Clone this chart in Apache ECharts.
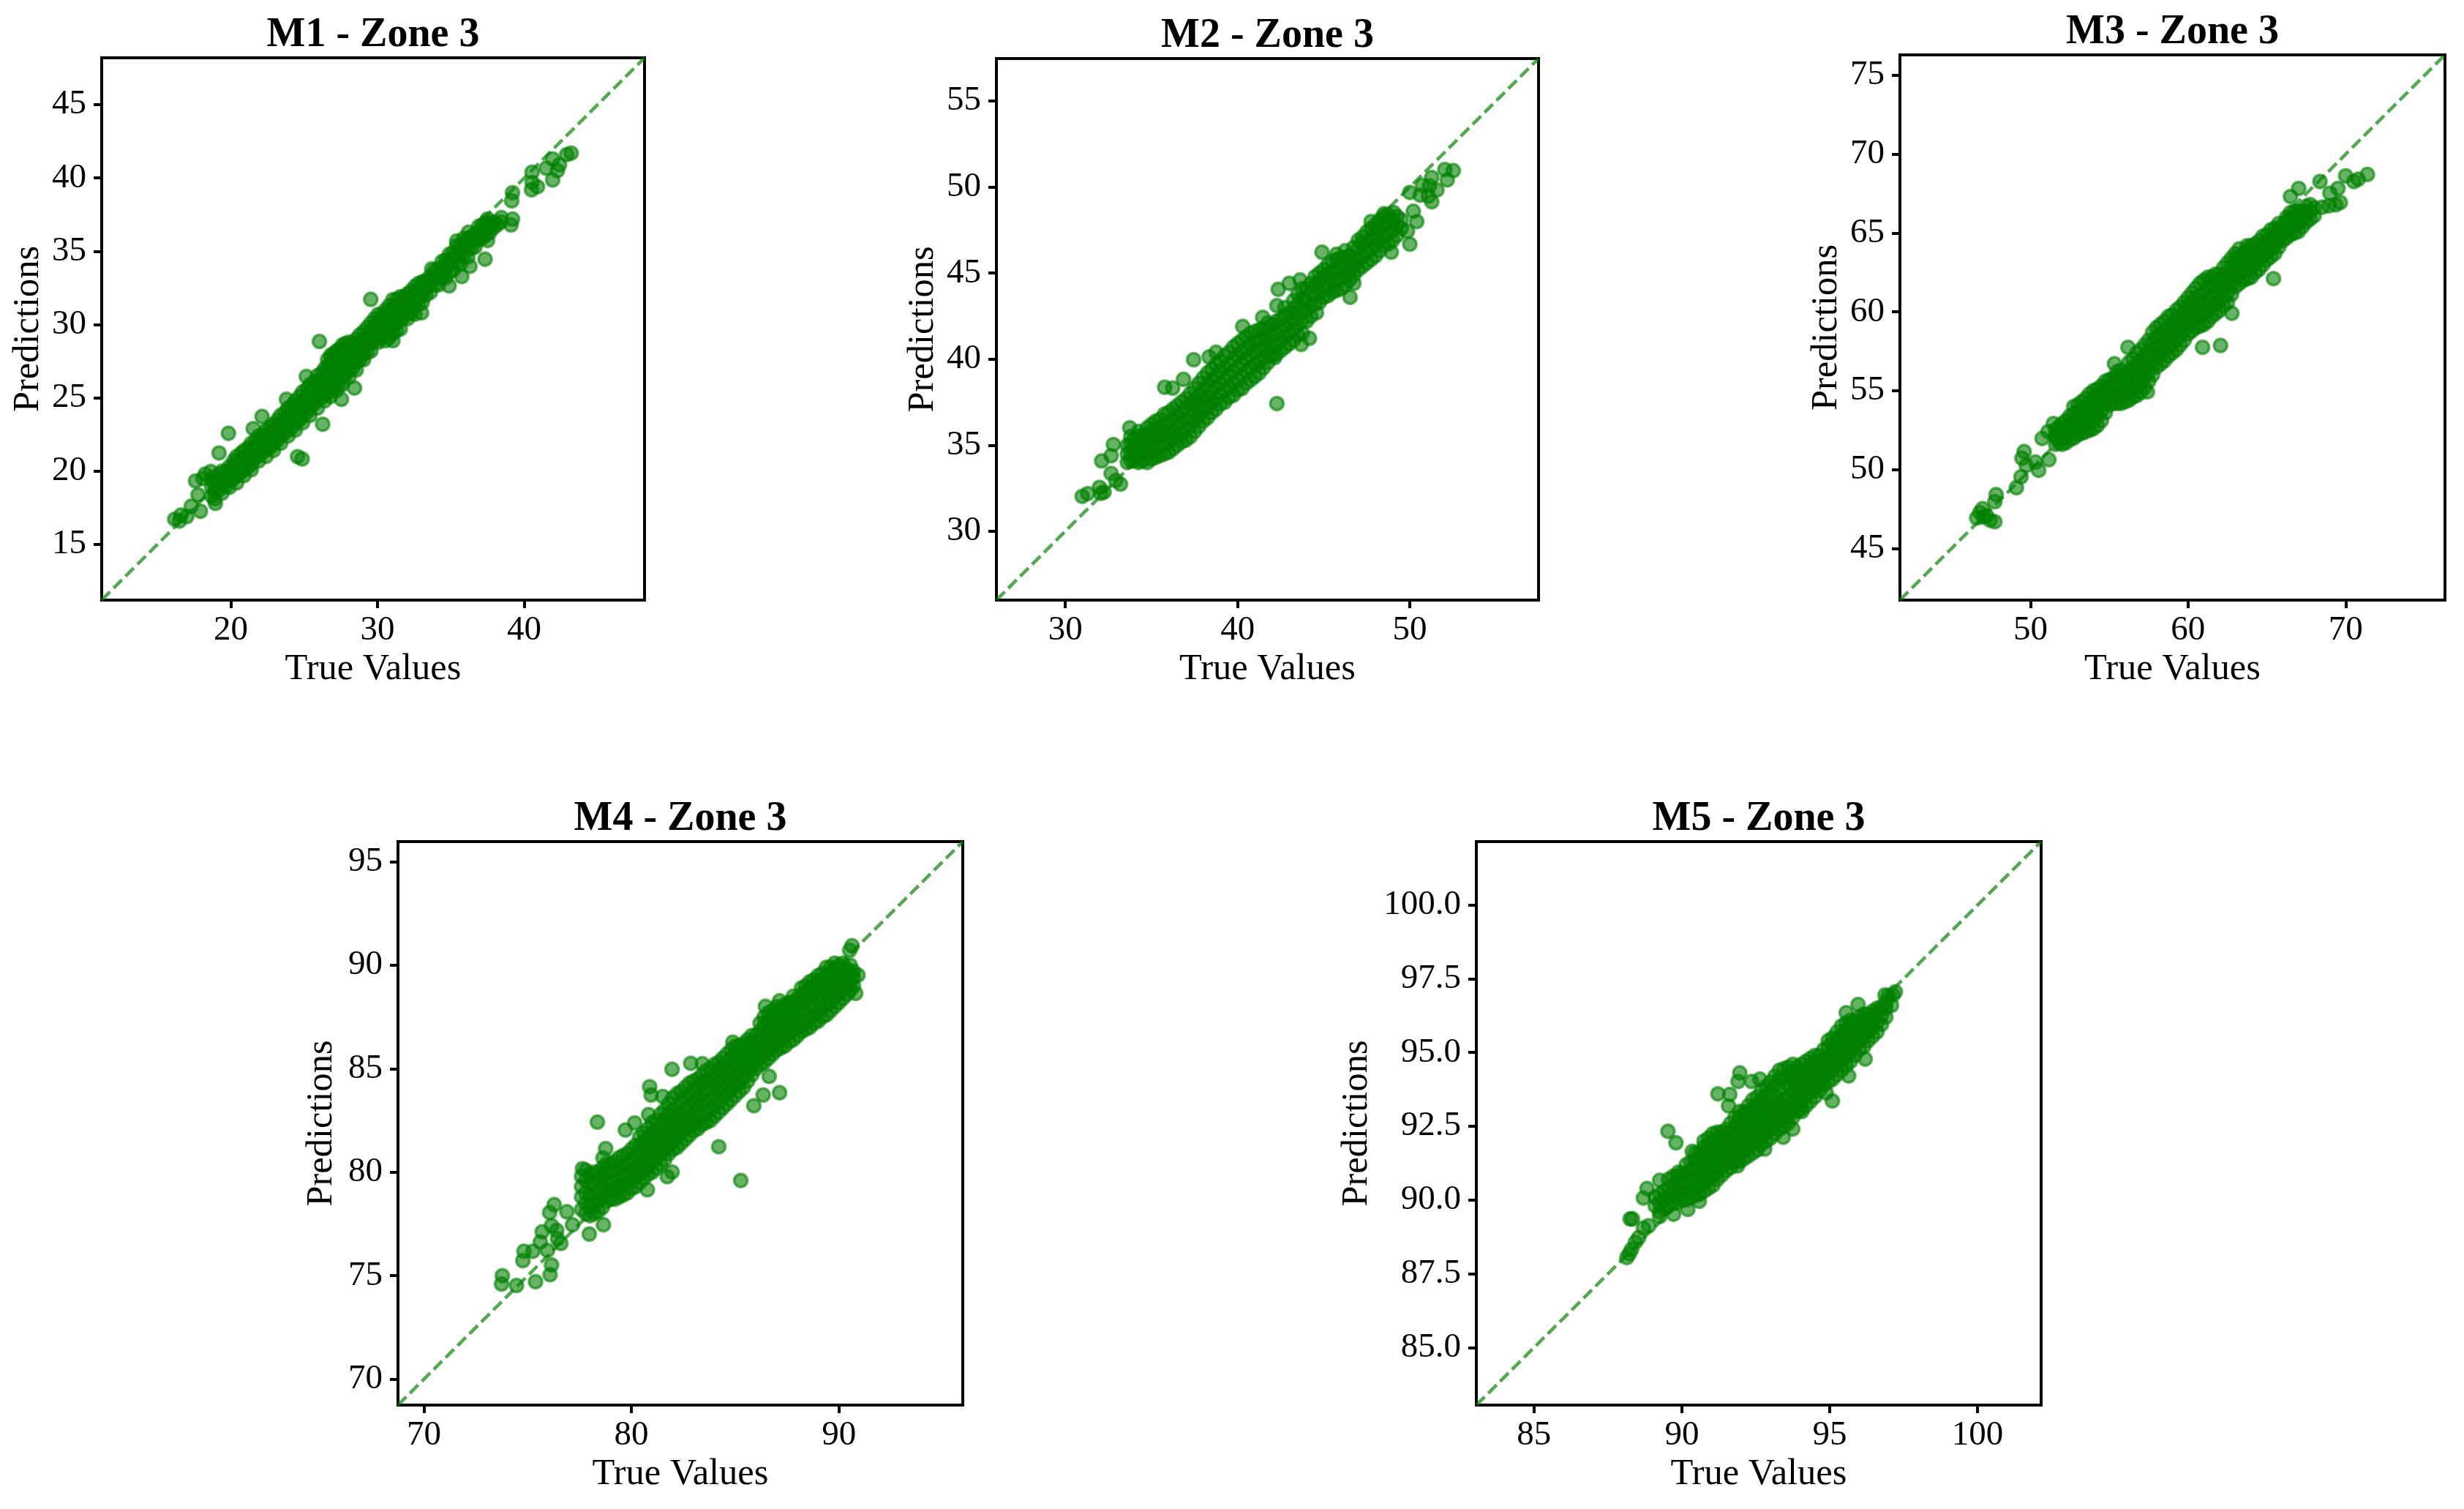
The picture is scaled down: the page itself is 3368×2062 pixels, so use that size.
<!DOCTYPE html>
<html>
<head>
<meta charset="utf-8">
<style>html,body{margin:0;padding:0;background:#fff}#c{width:3368px;height:2062px}</style>
<script src="https://cdn.jsdelivr.net/npm/echarts@6/dist/echarts.min.js"></script>
</head>
<body>
<div id="c"></div>
<script>
const titles=['M1 - Zone 3','M2 - Zone 3','M3 - Zone 3','M4 - Zone 3','M5 - Zone 3'];
const m1Range=[11.2,48.2], m2Range=[26,57.47], m3Range=[41.72,76.3], m4Range=[68.75,95.97], m5Range=[83.05,102.15];
const m1XTicks=[20,30,40], m1YTicks=[15,20,25,30,35,40,45];
const m2XTicks=[30,40,50], m2YTicks=[30,35,40,45,50,55];
const m3XTicks=[50,60,70], m3YTicks=[45,50,55,60,65,70,75];
const m4XTicks=[70,80,90], m4YTicks=[70,75,80,85,90,95];
const m5XTicks=[85,90,95,100], m5YTicks=[85,87.5,90,92.5,95,97.5,100];

// dense band: each row is a true value followed by estimated predictions at it
const m1Band=[[18.7,18.3,18.9,19.4],[19.2,18.7,19.3,19.8],[19.7,19,19.5,20],[20.2,19.5,19.9,20.4,20.7],[20.7,19.9,20.3,20.8,21.2],[21.2,20.3,20.8,21.2,21.6],[21.7,20.9,21.3,21.7,22.1],[22.2,21.3,21.7,22.1,22.5],[22.7,21.6,22.1,22.6,23],[23.2,22.1,22.6,23,23.5],[23.7,22.6,23.1,23.5,24],[24.2,23,23.5,24,24.5],[24.7,23.5,24,24.5,25.1],[25.2,24,24.6,25.1,25.6],[25.7,24.6,25.1,25.6,26.1],[26.2,25,25.6,26.2,26.7],[26.6,25.3,25.9,26.5,27.1,27.6],[27,25.6,26.2,26.9,27.5,28],[27.4,25.9,26.6,27.3,27.9,28.3],[27.8,26.5,27.1,27.7,28.3,28.7],[28.3,27,27.6,28.1,28.7],[28.8,27.6,28.1,28.7,29.3],[29.3,28.1,28.7,29.2,29.8],[29.8,28.9,29.4,29.9,30.4],[30.3,29.1,29.6,30.1,30.7],[30.8,29.1,29.7,30.3,30.9,31.3],[31.3,29.6,30.1,30.7,31.3,31.7],[31.8,30.5,31,31.5,31.9],[32.3,30.8,31.3,31.8,32.3],[32.8,31.4,31.9,32.4,32.8],[33.3,32,32.5,33],[33.9,32.7,33.2,33.7],[34.4,33.2,33.7,34.3],[34.9,33.6,34.2,34.8],[35.4,34.2,34.8,35.4],[35.9,34.7,35.3,35.9],[36.4,35.2,35.7,36],[36.9,35.8,36.3,36.7],[37.4,36.1,36.6,37],[37.9,36.6,37],[38.4,37]];
const m1Core=[[18.9,18.1,18.6,19.1,19.6],[19.4,18.5,19,19.5,20],[19.9,18.9,19.4,19.8,20.3],[20.4,19.2,19.7,20.1,20.6,21],[20.9,19.7,20.1,20.6,21,21.4],[21.4,20.1,20.5,21,21.5,21.9],[21.9,20.7,21.1,21.5,21.9,22.4],[22.4,21,21.5,21.9,22.3,22.8],[22.9,21.4,21.9,22.3,22.8,23.2],[23.4,21.9,22.4,22.8,23.3,23.8],[23.9,22.4,22.9,23.3,23.8,24.3],[24.4,22.8,23.3,23.8,24.3,24.8],[24.9,23.3,23.8,24.3,24.8,25.4],[25.4,23.8,24.3,24.8,25.4,25.9],[25.9,24.3,24.9,25.4,25.9,26.5],[26.4,24.8,25.3,25.9,26.5,27],[26.8,25.1,25.7,26.3,26.9,27.4,27.9],[27.2,25.5,26,26.6,27.2,27.8,28.2],[27.6,25.9,26.4,27,27.6,28.1,28.6],[28.05,26.4,26.9,27.4,28,28.5,28.8],[28.55,26.9,27.4,27.9,28.4,29],[29.05,27.6,28,28.5,29,29.5],[29.55,28.2,28.7,29.2,29.6,30.1],[30.05,28.8,29.2,29.7,30.2,30.7],[30.55,28.9,29.4,29.9,30.5,31],[31.05,28.9,29.4,30,30.6,31.1,31.7],[31.55,29.7,30.3,30.9,31.4,31.9],[32.05,30.4,30.8,31.3,31.7,32.1],[32.55,30.7,31.2,31.6,32.1,32.6],[33.05,31.5,32,32.4,32.9],[33.6,32.2,32.7,33.3],[34.15,32.7,33.2,33.8],[34.65,33.2,33.8,34.4],[35.15,33.7,34.3,34.9],[35.65,34.1,34.7,35.4],[36.15,34.6,35.2,35.8],[36.65,35.3,35.7,36.2],[37.15,35.9,36.3,36.8],[37.65,36.3,36.8],[38.15,36.8]];
// separately readable points: [true, predicted]
const m1Loose=[[29.54,31.72],[26.04,28.85],[19.84,22.58],[19.2,21.24],[22.13,23.73],[24.55,20.99],[24.86,20.83],[26.26,23.2],[28.43,25.67],[27.54,24.9],[25.15,26.46],[23.8,24.9],[21.53,22.9],[16.18,16.72],[16.6,17],[16.5,16.6],[17,16.9],[17.3,17.6],[17.93,17.26],[17.77,18.38],[17.6,19.33],[18.25,19.8],[18.63,19.97],[18.95,17.8],[18.1,19.5],[43.2,41.7],[42.9,41.6],[41.94,41.3],[41.5,40.67],[42.4,40.9],[42.26,40.5],[41.94,39.87],[40.54,40.4],[40.54,39.7],[40.5,39.2],[40.9,39.4],[39.2,39],[39.15,38.44],[39.1,36.8],[39.2,37.2],[38.44,37.3],[37.5,37.2],[37.33,34.46],[37.5,35.73],[36.3,33.98],[35.74,33.28],[34.88,32.64],[36.2,36.3],[35.4,35.7],[33.7,33.8],[33,30.8]];

const m2Band=[[33.6,34,34.5,35],[34,34.1,34.6,35,35.4],[34.5,34.1,34.6,35.1,35.6],[35,34.2,34.7,35.3,35.8,36.2],[35.5,34.4,35,35.5,36,36.5],[36,34.6,35.2,35.8,36.3,36.9],[36.5,35,35.5,36.1,36.7,37.3],[37,35.3,35.9,36.5,37.1,37.7],[37.5,35.8,36.4,37,37.6,38.3],[38,36.4,37,37.6,38.2,38.9],[38.5,36.9,37.5,38.1,38.8,39.4],[39,37.4,38,38.6,39.3,39.9],[39.5,37.8,38.4,39.1,39.7,40.4],[40,38.2,38.8,39.5,40.2,40.9],[40.5,38.6,39.3,40,40.6,41.3],[41,39,39.7,40.4,41,41.6],[41.5,39.5,40.1,40.7,41.3,41.8],[42,40.2,40.8,41.4,42],[42.5,40.5,41.1,41.7,42.3],[43,40.9,41.5,42.1,42.7],[43.5,41.4,42,42.6,43.2,43.8],[44,42.2,42.8,43.4,44.1],[44.5,43.2,43.7,44.3,44.8],[45,43.6,44.2,44.8,45.2],[45.5,43.9,44.5,45.1,45.7],[46,44.1,44.7,45.3,45.9],[46.5,44.6,45.1,45.6,46],[47,45.2,45.8,46.4,46.9],[47.5,45.6,46.2,46.8,47.4],[48,46,46.6,47.2,47.8],[48.5,46.6,47.2,47.8,48.3],[49,46.9,47.5,48.1],[49.5,47.6,48.1]];
const m2Core=[[33.8,34.1,34.6,35.1,35.5],[34.25,34,34.5,35,35.5,35.8],[34.75,34,34.5,35,35.5,36],[35.25,34.3,34.8,35.4,35.9,36.4],[35.75,34.5,35.1,35.7,36.2,36.8],[36.25,34.8,35.4,35.9,36.5,37.1],[36.75,35.2,35.7,36.3,36.9,37.5],[37.25,35.5,36.1,36.7,37.4,38],[37.75,36.1,36.7,37.3,37.9,38.6],[38.25,36.6,37.2,37.8,38.5,39.2],[38.75,37.1,37.7,38.4,39,39.7],[39.25,37.5,38.2,38.8,39.5,40.2],[39.75,37.9,38.6,39.3,40,40.7],[40.25,38.3,39,39.7,40.4,41.1],[40.75,38.8,39.5,40.2,40.8,41.5],[41.25,39.2,39.8,40.5,41.1,41.7],[41.75,39.8,40.4,41,41.6,42.1],[42.25,40.3,40.9,41.5,42.2],[42.75,40.7,41.3,41.9,42.5,43],[43.25,41.1,41.7,42.3,42.9,43.4],[43.75,41.5,42.2,42.9,43.5,44.1],[44.25,42.5,43.1,43.8,44.4],[44.75,43.3,43.9,44.5,45],[45.25,43.7,44.3,44.9,45.5],[45.75,44,44.6,45.2,45.8,46.1],[46.25,44.3,44.9,45.4,45.9,46.3],[46.75,44.9,45.4,45.9,46.5],[47.25,45.4,46,46.6,47.1],[47.75,45.8,46.4,47,47.6,48],[48.25,46.3,46.9,47.5,48.1],[48.75,46.7,47.3,47.9,48.4],[49.25,47.2,47.8,48.3]];
const m2Loose=[[42.28,37.42],[37.45,39.97],[36.86,38.83],[35.77,38.37],[36.23,38.32],[33.74,36.01],[32.79,35.04],[32.11,34.09],[32.66,34.39],[30.98,32.03],[31.3,32.19],[31.98,32.55],[32.25,32.28],[32.06,32.2],[32.66,33.36],[33.2,32.74],[32.93,32.95],[42.36,44.06],[42.28,43.11],[44.9,46.22],[43,44.41],[43.63,44.6],[44.17,41.21],[43.69,40.86],[46.53,43.6],[46.75,44.41],[44.58,42.7],[42.14,40.08],[50,46.68],[49.86,47.44],[48.92,46.22],[50.4,48],[50.2,48.6],[50,49.69],[50.6,49.53],[50.73,50.1],[51.27,50.56],[51.14,50.07],[51.57,49.83],[51.27,49.15],[51.08,49.47],[52.03,51.02],[52.52,50.96],[52.17,50.42],[49.05,48.53],[48.5,48.45],[38.35,40.13],[38.75,40.4],[40.3,41.9],[41.46,42.43]];

const m3Band=[[51.6,51.6,52.1,52.5],[52,51.6,52.1,52.5,52.9],[52.5,51.9,52.4,52.9,53.4],[53,52.2,52.7,53.2,53.7,54.1],[53.5,52.4,52.9,53.4,53.9,54.5],[54,52.6,53.2,53.8,54.4,55],[54.5,53.1,53.7,54.2,54.8,55.3],[55,54.1,54.6,55.1,55.7],[55.5,54.2,54.7,55.2,55.8,56.2],[56,54.3,54.9,55.5,56],[56.5,54.6,55.2,55.8,56.5,57],[57,54.9,55.5,56.2,56.9,57.6],[57.5,55.6,56.2,56.8,57.5,58.2],[58,56.5,57.1,57.7,58.4,59],[58.5,56.9,57.5,58.1,58.8,59.4],[59,57.4,58,58.6,59.2,59.8],[59.5,57.9,58.5,59.1,59.7,60.3],[60,58.6,59.2,59.8,60.4,60.9],[60.5,59,59.6,60.2,60.9,61.5],[61,59.2,59.9,60.5,61.2,62],[61.5,59.7,60.4,61,61.6,62.2],[62,60.1,60.7,61.4,62,62.4],[62.5,60.6,61.2,61.8,62.4,63.1],[63,61.6,62.2,62.8,63.3,63.7],[63.5,62,62.6,63.1,63.7],[64,62.2,62.8,63.4,64.2],[64.5,62.7,63.3,63.9,64.5],[65,63.3,63.8,64.4,64.9],[65.5,63.7,64.2,64.7,65.3],[66,64.5,65,65.5],[66.5,64.9,65.4,65.9,66.3],[67,65.1,65.6,66.1,66.4],[67.5,65.7,66.2,66.7],[68,66.1,66.6]];
const m3Core=[[51.8,51.7,52.2,52.7],[52.25,51.7,52.2,52.7,53.1],[52.75,52,52.5,53,53.5,54],[53.25,52.3,52.8,53.3,53.8,54.3],[53.75,52.5,53,53.6,54.2,54.8],[54.25,52.8,53.4,54,54.6,55.1],[54.75,53.6,54.2,54.7,55.2,55.6],[55.25,54.2,54.7,55.3,55.8],[55.75,54.2,54.8,55.4,55.9,56.3],[56.25,54.4,55,55.6,56.2,56.8],[56.75,54.7,55.3,56,56.7,57.4],[57.25,55.2,55.9,56.5,57.2,57.9],[57.75,56,56.6,57.3,58,58.7],[58.25,56.7,57.3,57.9,58.6,59.2],[58.75,57.2,57.8,58.4,59,59.7],[59.25,57.6,58.2,58.8,59.5,60.1],[59.75,58.2,58.8,59.4,60,60.6],[60.25,58.8,59.4,60,60.6,61.2],[60.75,59.1,59.7,60.4,61,61.8],[61.25,59.4,60.1,60.8,61.5,62.2],[61.75,59.9,60.5,61.2,61.8,62.4],[62.25,60.4,61,61.6,62.2,62.8],[62.75,61.1,61.7,62.3,62.9,63.4],[63.25,61.8,62.4,63,63.5,64],[63.75,62.1,62.7,63.3,63.9,64.2],[64.25,62.5,63.1,63.7,64.3],[64.75,63,63.6,64.2,64.8],[65.25,63.5,64,64.6,65.2],[65.75,64.1,64.6,65.1,65.6],[66.25,64.7,65.2,65.7,66],[66.75,65,65.5,66,66.4],[67.25,65.4,65.9,66.4],[67.75,65.9,66.4,66.8]];
const m3Loose=[[62.06,57.87],[60.92,57.75],[56.19,57.75],[55.33,56.71],[57.42,54.93],[65.42,62.11],[62.78,59.91],[66.5,67.32],[67.02,67.83],[68.37,68.27],[70,68.63],[70.52,68.27],[70.8,68.42],[71.38,68.72],[69,67.53],[69.51,67.83],[69.66,66.94],[68.94,66.73],[68.5,66.64],[69.37,66.79],[47.82,48.41],[47.74,47.96],[49.11,48.85],[49.4,49.54],[46.59,46.93],[46.96,47.52],[46.79,47.28],[47.22,47.08],[47.45,46.78],[47.74,46.69],[47.02,46.99],[49.6,51.14],[49.46,50.72],[49.74,50.25],[50.52,49.95],[50.32,50.48],[51.17,50.63],[50.74,51.97],[51.46,52.92],[51.12,52.41],[51.6,52.1]];

const m4Band=[[77.6,78.2,78.8,79.3,79.8],[78,77.9,78.4,78.9,79.4,79.9],[78.4,78.1,78.6,79.1,79.6,80],[78.8,78.6,79,79.5,80,80.4],[79.2,78.7,79.2,79.6,80.1,80.5],[79.6,78.9,79.4,79.8,80.3,80.8],[80,79.2,79.6,80.1,80.6,81.1],[80.4,79.5,79.9,80.4,80.9,81.3,81.7],[80.8,79.9,80.3,80.8,81.2,81.7,82.1],[81.2,80.2,80.7,81.1,81.6,82,82.5],[81.6,80.6,81.1,81.6,82,82.5,83],[82,81.1,81.5,82,82.5,83,83.6],[82.4,81.4,81.9,82.4,82.9,83.4,83.9],[82.8,81.8,82.2,82.7,83.2,83.7,84.3],[83.2,82.1,82.6,83.1,83.6,84.1,84.5],[83.6,82.4,82.9,83.4,83.9,84.4,84.9],[84,82.7,83.2,83.7,84.2,84.7,85.2],[84.4,83.1,83.6,84.1,84.6,85.1,85.5],[84.8,83.5,84,84.5,85,85.5,85.9],[85.2,83.9,84.3,84.8,85.3,85.7,86.1],[85.6,84.4,84.8,85.2,85.6,86.1,86.4],[86,85,85.4,85.8,86.2,86.6],[86.4,85.3,85.7,86.1,86.6,87.1,87.5],[86.8,85.7,86.1,86.6,87.1,87.5,87.8],[87.2,86,86.4,86.9,87.3,87.7,87.9],[87.6,86.3,86.7,87.2,87.6,88,88.2],[88,86.6,87,87.5,88,88.4],[88.4,86.9,87.3,87.8,88.3,88.7,89],[88.8,87.2,87.6,88.1,88.6,89,89.3],[89.2,87.5,87.9,88.4,88.9,89.3,89.6],[89.6,87.8,88.2,88.7,89.2,89.6,89.9],[90,88.2,88.6,89,89.5,90],[90.4,88.6,89,89.4,89.8],[90.7,89,89.4,89.7]];
const m4Core=[[77.8,78,78.5,79,79.6,80.1],[78.2,78,78.5,79,79.5,80],[78.6,78.3,78.8,79.3,79.8,80.2],[79,78.7,79.1,79.5,80,80.4],[79.4,78.8,79.3,79.7,80.2,80.7],[79.8,79,79.5,80,80.4,80.9],[80.2,79.3,79.8,80.3,80.8,81.3],[80.6,79.7,80.1,80.6,81,81.5,81.9],[81,80,80.5,81,81.4,81.9,82.4],[81.4,80.4,80.9,81.4,81.8,82.3,82.8],[81.8,80.9,81.3,81.8,82.3,82.8,83.3],[82.2,81.2,81.7,82.2,82.7,83.2,83.8],[82.6,81.6,82.1,82.6,83.1,83.6,84.1],[83,82,82.4,82.9,83.4,83.9,84.4],[83.4,82.3,82.8,83.3,83.8,84.3,84.7],[83.8,82.5,83,83.5,84,84.5,85],[84.2,82.9,83.4,83.9,84.4,84.9,85.3],[84.6,83.3,83.8,84.3,84.8,85.3,85.7],[85,83.7,84.2,84.7,85.2,85.7,86.1],[85.4,84.1,84.6,85,85.5,85.9,86.2],[85.8,84.7,85.1,85.5,85.9,86.3,86.6],[86.2,85.2,85.6,86,86.4,86.8,87.2],[86.6,85.5,85.9,86.3,86.8,87.3,87.7],[87,85.9,86.3,86.8,87.2,87.6,88],[87.4,86.1,86.6,87,87.5,87.9,88.1],[87.8,86.4,86.9,87.4,87.8,88.2,88.5],[88.2,86.8,87.2,87.7,88.2,88.6,88.9],[88.6,87,87.5,88,88.5,88.9,89.2],[89,87.3,87.8,88.3,88.8,89.2,89.5],[89.4,87.6,88.1,88.6,89.1,89.5,89.9],[89.8,88,88.5,88.9,89.4,89.8,90.1],[90.2,88.4,88.8,89.2,89.7,90.1],[90.55,88.8,89.2,89.6,90]];
const m4Loose=[[85.27,79.6],[84.21,81.23],[78.36,82.42],[73.78,75],[73.74,74.6],[74.46,74.53],[75.38,74.71],[76.08,75.05],[76.15,75.52],[74.77,75.73],[74.82,76.18],[75.25,76.18],[75.95,76.22],[75.61,76.63],[75.7,77.12],[76.15,77.42],[76.4,77.19],[76.44,76.79],[76.6,76.56],[76.06,78.05],[76.28,78.43],[76.89,78.09],[77.16,77.46],[77.97,77.01],[78.65,77.46],[81.96,84.97],[82.86,85.26],[80.88,84.13],[80.95,83.73],[81.51,83.66],[80.83,82.78],[80.16,82.38],[79.71,82.04],[78.76,81.14],[78.63,80.69],[77.64,80.17],[87.14,83.84],[86.35,83.73],[85.9,83.21],[86.64,84.63],[81.96,80.01],[81.73,79.78],[80.77,79.15],[90.81,88.64],[90.92,89.52],[90.63,90.94],[90.52,90.72],[86.46,88.01],[87.14,88.28],[84.89,86.28],[83.42,85.24]];

const m5Band=[[89.1,89.8,90.1],[89.4,89.7,90,90.3],[89.7,89.9,90.2,90.5,90.8],[90,90,90.3,90.6,90.9],[90.3,90.1,90.4,90.7,91,91.3],[90.6,90.2,90.5,90.8,91.1,91.4,91.6],[90.9,90.4,90.7,91,91.3,91.6,91.9,92.1],[91.2,90.7,90.95,91.2,91.5,91.8,92.1,92.3],[91.5,91,91.25,91.5,91.8,92.1,92.4],[91.8,91.3,91.6,91.9,92.2,92.5,92.8],[92.1,91.4,91.7,92,92.3,92.6,92.9,93],[92.4,91.6,91.9,92.2,92.5,92.8,93.1,93.4],[92.7,91.9,92.2,92.5,92.8,93.1,93.4,93.7],[93,92.1,92.4,92.7,93,93.3,93.7,94],[93.3,92.4,92.7,93,93.3,93.7,94.1,94.4],[93.6,92.6,92.9,93.2,93.5,93.9,94.2,94.5],[93.9,93,93.3,93.6,93.9,94.2,94.5],[94.2,93.2,93.5,93.8,94.1,94.4,94.7],[94.5,93.5,93.8,94.1,94.4,94.7,94.9],[94.8,93.9,94.2,94.5,94.8,95.1],[95.1,94.1,94.4,94.7,95,95.3,95.5],[95.4,94.4,94.7,95,95.3,95.6,95.9],[95.7,94.7,95,95.3,95.6,95.9,96.1],[96,95.1,95.4,95.7,96,96.2],[96.3,95.4,95.7,96,96.3],[96.6,95.7,96,96.3,96.5],[96.9,96.2,96.5,96.7]];
const m5Core=[[89.25,89.6,89.9,90.2],[89.55,89.8,90.1,90.4,90.7],[89.85,89.9,90.2,90.5,90.8],[90.15,90,90.3,90.6,90.9,91.2],[90.45,90.15,90.45,90.75,91.05,91.35,91.6],[90.75,90.3,90.6,90.9,91.2,91.5,91.8,92],[91.05,90.5,90.8,91.1,91.4,91.7,92,92.25],[91.35,90.85,91.15,91.4,91.7,92,92.3],[91.65,91.1,91.4,91.7,92,92.3,92.6],[91.95,91.3,91.6,91.9,92.2,92.5,92.8,93],[92.25,91.5,91.8,92.1,92.4,92.7,93,93.2],[92.55,91.7,92,92.35,92.65,92.95,93.25,93.5],[92.85,92,92.3,92.6,92.9,93.2,93.55,93.85],[93.15,92.25,92.55,92.85,93.15,93.5,93.9,94.2],[93.45,92.5,92.8,93.1,93.4,93.8,94.15,94.45],[93.75,92.8,93.1,93.4,93.7,94.05,94.35,94.6],[94.05,93.1,93.4,93.7,94,94.3,94.6],[94.35,93.35,93.65,93.95,94.25,94.55,94.8],[94.65,93.7,94,94.3,94.6,94.9],[94.95,94,94.3,94.6,94.9,95.2,95.4],[95.25,94.25,94.55,94.85,95.15,95.45,95.7],[95.55,94.55,94.85,95.15,95.45,95.75,96],[95.85,94.9,95.2,95.5,95.8,96.05],[96.15,95.2,95.5,95.85,96.15,96.3],[96.45,95.55,95.85,96.15,96.4],[96.75,95.95,96.25,96.55]];
const m5Loose=[[89.53,92.33],[89.8,91.94],[91.22,93.6],[91.62,93.58],[91.96,94.31],[91.9,94.02],[92.36,94.02],[92.64,94.1],[91.58,93.19],[95.09,93.36],[95.64,94.21],[96.2,94.78],[94.88,93.63],[95.96,96.63],[95.56,96.35],[88.25,89.36],[88.33,89.36],[89.25,90.67],[88.82,90.39],[88.7,90.07],[88.14,88.05],[88.22,88.18],[88.3,88.33],[88.43,88.57],[88.54,88.73],[88.7,89.05],[88.88,89.13],[89.25,89.44],[89.72,89.52],[90.2,89.68],[90.59,89.96],[97.14,96.95],[97.22,97.06],[96.98,96.92],[97.09,96.6],[96.87,96.95],[92.8,91.73],[91.88,91.16],[93.43,92.13],[93.75,92.41],[94.06,93],[89.88,90.94],[90.35,91.65]];

const FONT='"Liberation Serif","Times New Roman",serif';
const panels=[
 {left:139,top:79,width:742,height:741,range:m1Range,xt:m1XTicks,yt:m1YTicks,band:m1Band,core:m1Core,loose:m1Loose,yGap:75},
 {left:1362,top:80,width:741,height:740,range:m2Range,xt:m2XTicks,yt:m2YTicks,band:m2Band,core:m2Core,loose:m2Loose,yGap:75},
 {left:2597,top:75,width:745,height:745,range:m3Range,xt:m3XTicks,yt:m3YTicks,band:m3Band,core:m3Core,loose:m3Loose,yGap:75},
 {left:544,top:1150,width:772,height:770,range:m4Range,xt:m4XTicks,yt:m4YTicks,band:m4Band,core:m4Core,loose:m4Loose,yGap:79},
 {left:2018,top:1150,width:772,height:770,range:m5Range,xt:m5XTicks,yt:m5YTicks,band:m5Band,core:m5Core,loose:m5Loose,yGap:138,dec:1}
];
const expand=b=>b.flatMap(r=>r.slice(1).map(y=>[r[0],y]));
const option={animation:false,backgroundColor:'#fff',title:[],grid:[],xAxis:[],yAxis:[],series:[]};
panels.forEach((p,i)=>{
  option.title.push({text:titles[i],left:p.left+p.width/2,top:p.top-58,textAlign:'center',padding:0,
    textStyle:{fontFamily:FONT,fontWeight:'bold',fontSize:56,color:'#000'}});
  option.grid.push({left:p.left,top:p.top,width:p.width,height:p.height,show:true,borderColor:'#000',borderWidth:4,backgroundColor:'#fff'});
  const common=(ticks,fmt,m)=>({type:'value',gridIndex:i,min:p.range[0],max:p.range[1],splitLine:{show:false},
    axisLine:{show:false},
    axisTick:{show:true,length:11,inside:false,customValues:ticks,lineStyle:{color:'#000',width:4}},
    axisLabel:{show:true,customValues:ticks,margin:m,fontFamily:FONT,fontSize:47,color:'#000',formatter:fmt},
    nameLocation:'middle',nameTextStyle:{fontFamily:FONT,fontSize:50.5,color:'#000'}});
  option.xAxis.push(Object.assign(common(p.xt,v=>String(v),18),{name:'True Values',nameGap:69}));
  option.yAxis.push(Object.assign(common(p.yt,v=>p.dec?v.toFixed(p.dec):String(v),21),{name:'Predictions',nameGap:p.yGap}));
  option.series.push({type:'scatter',xAxisIndex:i,yAxisIndex:i,symbolSize:18,data:p.loose.concat(expand(p.band),expand(p.core)),
    itemStyle:{color:'#008000',opacity:0.6,borderColor:'#008000',borderWidth:3.6},silent:true,z:3,large:false,progressive:0});
  option.series.push({type:'line',xAxisIndex:i,yAxisIndex:i,data:[[p.range[0],p.range[0]],[p.range[1],p.range[1]]],showSymbol:false,symbol:'none',
    lineStyle:{color:'#008000',opacity:0.68,width:4.6,type:[16,7]},silent:true,z:4});
});
echarts.init(document.getElementById('c')).setOption(option);
</script>
</body>
</html>
